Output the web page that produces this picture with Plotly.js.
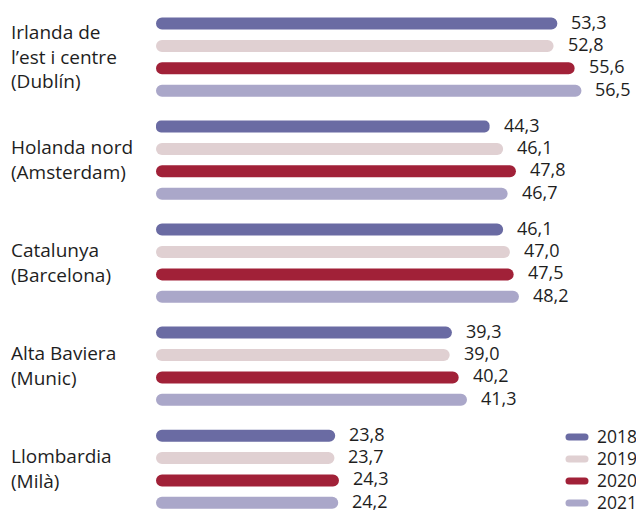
<!DOCTYPE html>
<html><head><meta charset="utf-8">
<script src="https://cdn.plot.ly/plotly-3.0.1.min.js"></script>
<style>
html,body{margin:0;padding:0;background:#fff;}
#chart{width:639px;height:514px;}
.legend .legendtext{font-size:17.5px !important;}
</style></head><body><div id="chart"></div>
<script>
const regions = ["Irlanda de<br>l’est i centre<br>(Dublín)", "Holanda nord<br>(Amsterdam)", "Catalunya<br>(Barcelona)", "Alta Baviera<br>(Munic)", "Llombardia<br>(Milà)"];
const years = ["2018", "2019", "2020", "2021"];
const v2018 = [53.3, 44.3, 46.1, 39.3, 23.8];
const v2019 = [52.8, 46.1, 47.0, 39.0, 23.7];
const v2020 = [55.6, 47.8, 47.5, 40.2, 24.3];
const v2021 = [56.5, 46.7, 48.2, 41.3, 24.2];
const series = [v2018, v2019, v2020, v2021];
const colors = ["#6a6ba3", "#e0d0d2", "#a12138", "#aaa7c9"];

const GROUP_STEP = 4.6;
const PX_PER_UNIT = 22.4;
const TOP_PX = 23.5;
const BAR_W = 12 / PX_PER_UNIT;
const txtColor = "#1e1e1e";
const fmt = v => v.toFixed(1).replace('.', ',');

const traces = [];
const annotations = [];
series.forEach((vals, i) => {
  const ys = vals.map((_, g) => g * GROUP_STEP + i);
  traces.push({
    type: 'bar', orientation: 'h', name: years[i],
    x: vals, base: 0, y: ys, width: BAR_W,
    marker: {color: colors[i], cornerradius: '50%', line: {width: 0}},
    hoverinfo: 'skip'
  });
  vals.forEach((v, g) => {
    annotations.push({
      x: v, y: ys[g], xref: 'x', yref: 'y', text: fmt(v), showarrow: false,
      xanchor: 'left', yanchor: 'middle', xshift: 13, yshift: 2, borderpad: 0,
      font: {family: 'Open Sans', size: 18, color: txtColor}
    });
  });
});
const L = 156, W = 639, H = 514;
regions.forEach((r, g) => {
  annotations.push({
    x: (9 - L) / (W - L), xref: 'paper', y: g * GROUP_STEP + 1.5, yref: 'y', yshift: 1,
    text: r, showarrow: false, xanchor: 'left', yanchor: 'middle', align: 'left',
    font: {family: 'Open Sans', size: 19, color: txtColor}
  });
});

const layout = {
  width: W, height: H,
  margin: {l: L, r: 0, t: 0, b: 0, autoexpand: false},
  paper_bgcolor: '#fff', plot_bgcolor: '#fff',
  barmode: 'overlay',
  xaxis: {range: [0, (W - L) / 7.53], visible: false, fixedrange: true},
  yaxis: {range: [(H - TOP_PX) / PX_PER_UNIT, -TOP_PX / PX_PER_UNIT], visible: false, fixedrange: true},
  showlegend: true,
  legend: {x: (557 - L) / (W - L), xanchor: 'left', y: (H - 421) / H, yanchor: 'top',
           font: {family: 'Open Sans', size: 14.6, color: txtColor}, bgcolor: 'rgba(0,0,0,0)',
           traceorder: 'normal'},
  annotations: annotations,
  font: {family: 'Open Sans'}
};
Plotly.newPlot('chart', traces, layout, {staticPlot: true, displayModeBar: false}).then(gd => {
  const pill = "M-8,-3.5H8A3.5,3.5 0 0 1 8,3.5H-8A3.5,3.5 0 0 1 -8,-3.5Z";
  gd.querySelectorAll('.legendpoints path').forEach(p => p.setAttribute('d', pill));
});
</script></body></html>
